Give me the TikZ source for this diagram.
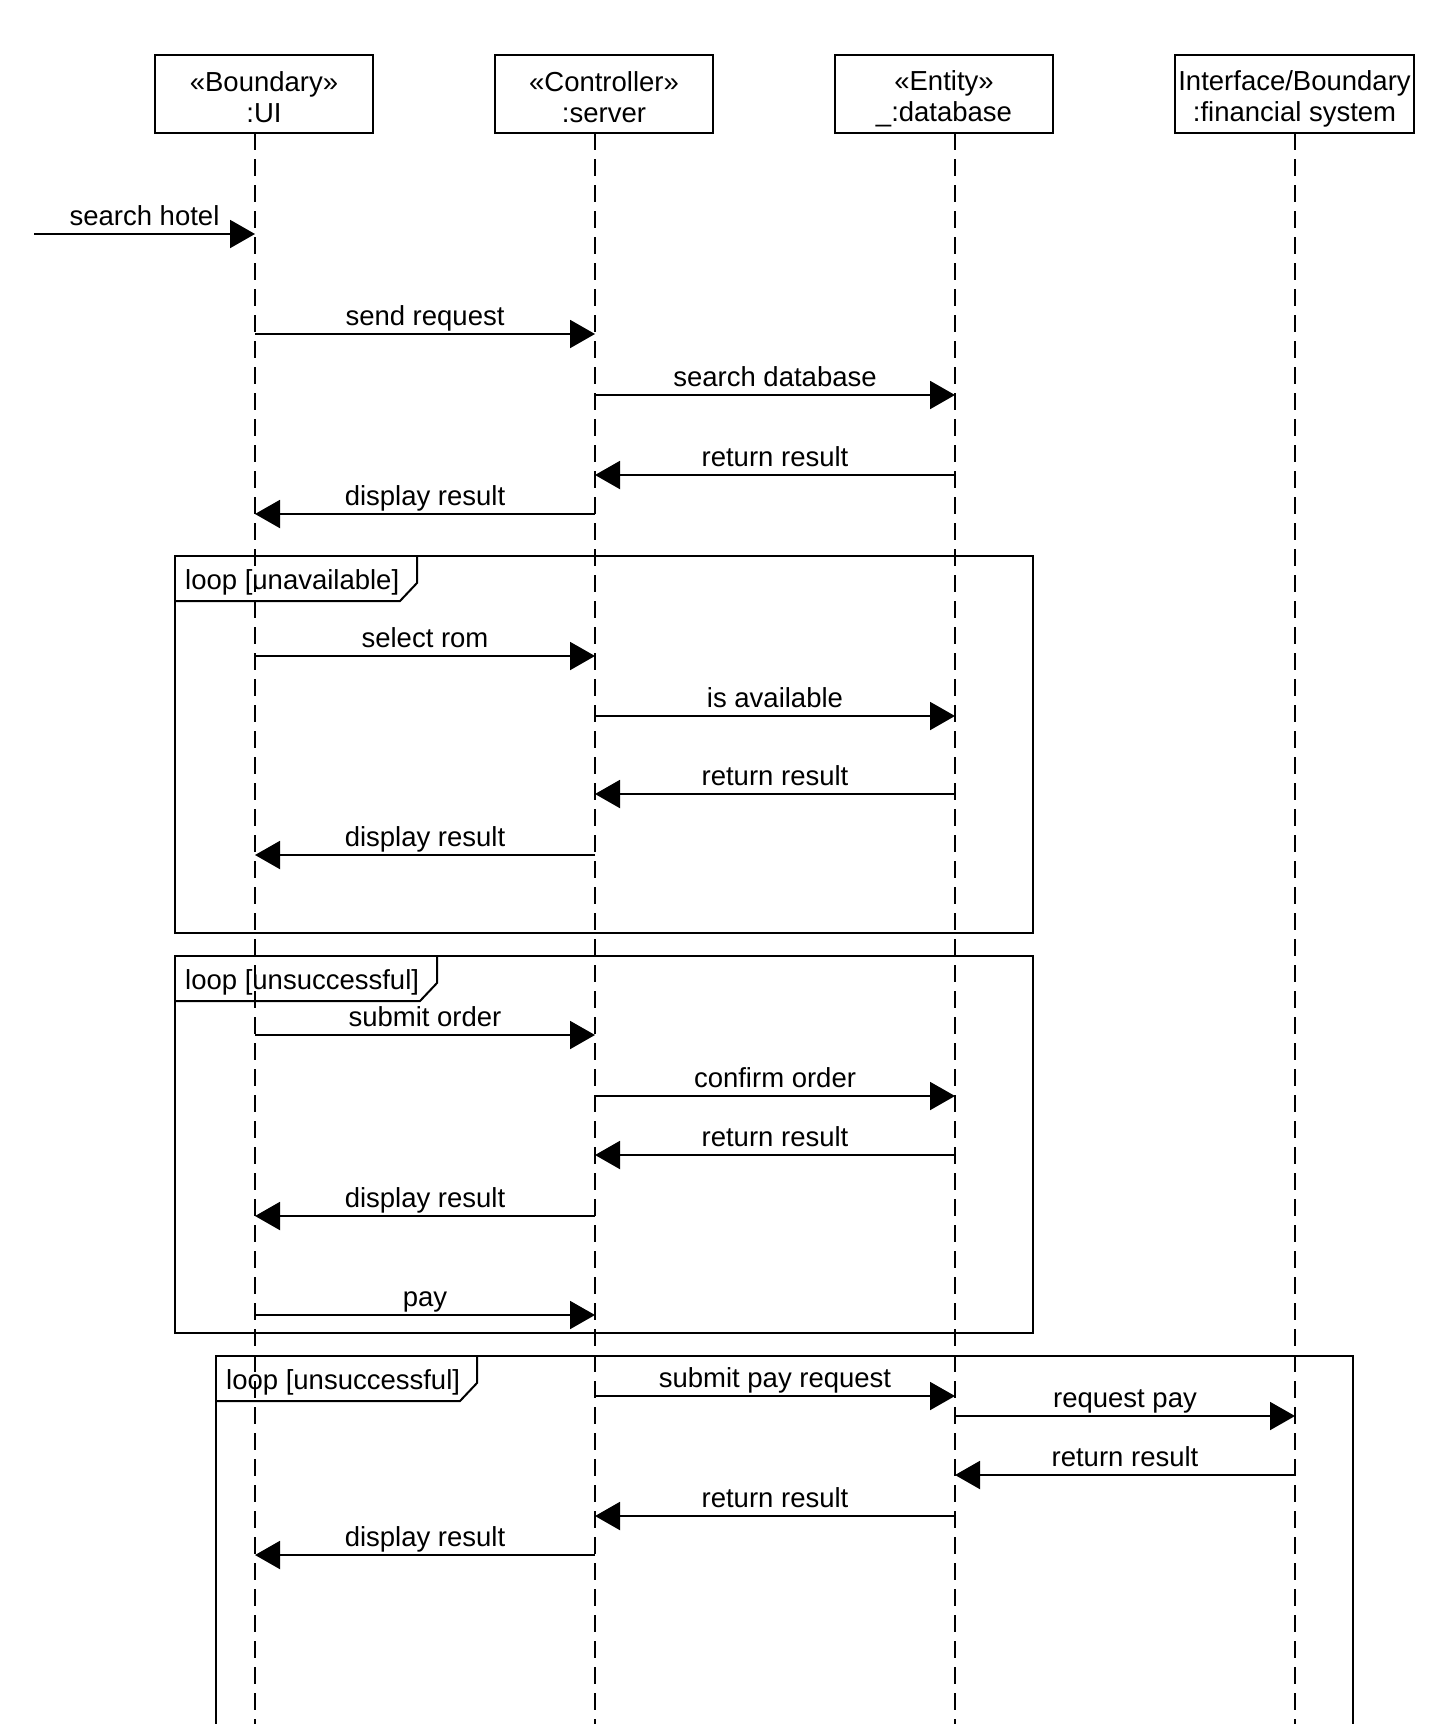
\documentclass[tikz,border=0pt]{standalone}
\usepackage{fontspec}
\setmainfont{Liberation Sans}
\usetikzlibrary{arrows.meta}

\newcommand{\lifetext}[2]{\rule{0pt}{29pt}#1\\#2\rule[-4pt]{0pt}{4pt}}

\begin{document}
\begin{tikzpicture}[
    x=1pt,
    y=-1pt,
    every node/.style={
        font=\fontsize{27.5}{31}\selectfont
    },
    lifebox/.style={
        draw,
        line width=2pt,
        minimum width=218pt,
        minimum height=78pt,
        align=center,
        inner sep=0pt
    },
    lifeline/.style={
        line width=1.6pt,
        dash pattern=on 17pt off 9pt
    },
    message/.style={
        line width=2pt,
        -{Triangle[length=25pt,width=28pt]}
    },
    msglabel/.style={
        anchor=base,
        yshift=8.5pt,
        inner sep=0pt
    },
    frame/.style={
        line width=2pt
    },
    framelabel/.style={
        anchor=base west,
        inner sep=0pt
    }
]

\useasboundingbox (0,0) rectangle (1454,1724);

% objects
\node[lifebox] (ui) at (264,94) {\lifetext{«Boundary»}{:UI}};
\node[lifebox] (server) at (604,94) {\lifetext{«Controller»}{:server}};
\node[lifebox] (db) at (944,94) {\lifetext{«Entity»}{\_:database}};
\node[lifebox, minimum width=239pt] (fin) at (1294.5,94) {\lifetext{Interface/Boundary}{:financial system}};

\coordinate (uiL) at (255,133);
\coordinate (serverL) at (595,133);
\coordinate (dbL) at (955,133);
\coordinate (finL) at (1295,133);

\draw[lifeline] (uiL) -- (uiL |- 0,1724);
\draw[lifeline] (serverL) -- (serverL |- 0,1724);
\draw[lifeline] (dbL) -- (dbL |- 0,1724);
\draw[lifeline] (finL) -- (finL |- 0,1724);


\coordinate (entry) at (34,234);
\draw[message] (entry) -- node[msglabel] {search hotel} (uiL |- entry);

\draw[message] (uiL |- 0,334) -- node[msglabel] {send request} (serverL |- 0,334);
\draw[message] (serverL |- 0,395) -- node[msglabel] {search database} (dbL |- 0,395);
\draw[message] (dbL |- 0,475) -- node[msglabel] {return result} (serverL |- 0,475);
\draw[message] (serverL |- 0,514) -- node[msglabel] {display result} (uiL |- 0,514);


% loop 1
\draw[frame] (175,556) rectangle (1033,933);
\draw[frame] (175,601) -- (400,601) -- (417,583) -- (417,556);
\node[framelabel] (loopA) at (185,589) {loop [unavailable]};

\draw[message] (uiL |- 0,656) -- node[msglabel] {select rom} (serverL |- 0,656);
\draw[message] (serverL |- 0,716) -- node[msglabel] {is available} (dbL |- 0,716);
\draw[message] (dbL |- 0,794) -- node[msglabel] {return result} (serverL |- 0,794);
\draw[message] (serverL |- 0,855) -- node[msglabel] {display result} (uiL |- 0,855);


% loop 2
\draw[frame] (175,956) rectangle (1033,1333);
\draw[frame] (175,1001) -- (420,1001) -- (437,983) -- (437,956);
\node[framelabel] (loopB) at (185,989) {loop [unsuccessful]};

\draw[message] (uiL |- 0,1035) -- node[msglabel] {submit order} (serverL |- 0,1035);
\draw[message] (serverL |- 0,1096) -- node[msglabel] {confirm order} (dbL |- 0,1096);
\draw[message] (dbL |- 0,1155) -- node[msglabel] {return result} (serverL |- 0,1155);
\draw[message] (serverL |- 0,1216) -- node[msglabel] {display result} (uiL |- 0,1216);
\draw[message] (uiL |- 0,1315) -- node[msglabel] {pay} (serverL |- 0,1315);


% loop 3
\draw[frame] (216,1724) -- (216,1356) -- (1353,1356) -- (1353,1724);
\draw[frame] (216,1401) -- (460,1401) -- (477,1383) -- (477,1356);
\node[framelabel] (loopC) at (226,1389) {loop [unsuccessful]};

\draw[message] (serverL |- 0,1396) -- node[msglabel] {submit pay request} (dbL |- 0,1396);
\draw[message] (dbL |- 0,1416) -- node[msglabel] {request pay} (finL |- 0,1416);
\draw[message] (finL |- 0,1475) -- node[msglabel] {return result} (dbL |- 0,1475);
\draw[message] (dbL |- 0,1516) -- node[msglabel] {return result} (serverL |- 0,1516);
\draw[message] (serverL |- 0,1555) -- node[msglabel] {display result} (uiL |- 0,1555);

\end{tikzpicture}
\end{document}
